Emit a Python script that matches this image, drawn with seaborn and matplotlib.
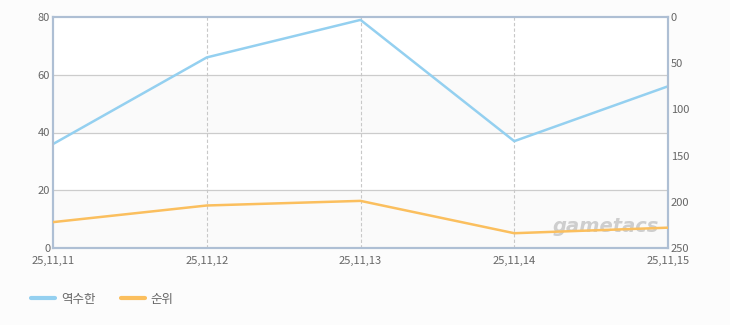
import matplotlib
matplotlib.use("Agg")
import matplotlib.pyplot as plt
import seaborn as sns
import pandas as pd
from matplotlib.lines import Line2D

dates = ["25,11,11", "25,11,12", "25,11,13", "25,11,14", "25,11,15"]
value_series = [36, 66, 79, 37, 56]
rank_series = [222, 204, 199, 234, 228]
left_ticks = [0, 20, 40, 60, 80]
right_ticks = [0, 50, 100, 150, 200, 250]

sns.set_theme(style="white")
plt.rcParams['font.family'] = ['Noto Sans CJK KR', 'DejaVu Sans']

bg = "#fcfcfc"
blue = "#94d0f0"
orange = "#fbbf5e"
frame = "#aebfd4"
tick_c = "#666666"

fig = plt.figure(figsize=(7.3, 3.25), dpi=100, facecolor=bg)
ax = fig.add_axes([53/730, 1-248/325, (668-53)/730, (248-17)/325])
ax.set_facecolor("white")

df = pd.DataFrame({"x": range(len(dates)), "v": value_series, "r": rank_series})

# alternating bands
for i in range(0, len(left_ticks) - 1):
    if i % 2 == 0:
        ax.axhspan(left_ticks[i], left_ticks[i+1], color="#fafafa", zorder=0, lw=0)
for t in left_ticks[1:-1]:
    ax.axhline(t, color="#cccccc", lw=0.9, zorder=1)
for i in range(1, len(dates) - 1):
    ax.axvline(i, color="#c8c8c8", lw=0.8, ls=(0, (3, 2)), zorder=1)

sns.lineplot(data=df, x="x", y="v", ax=ax, color=blue, lw=1.8, zorder=3)
ax.set_xlim(0, len(dates) - 1)
ax.set_ylim(0, 80)
ax.set_yticks(left_ticks)
ax.set_xticks(range(len(dates)))
ax.set_xticklabels(dates)
ax.set_xlabel("")
ax.set_ylabel("")

ax2 = ax.twinx()
sns.lineplot(data=df, x="x", y="r", ax=ax2, color=orange, lw=1.8, zorder=3)
ax2.set_ylim(250, 0)
ax2.set_yticks(right_ticks)
ax2.set_ylabel("")
ax2.set_xlim(0, len(dates) - 1)

for a in (ax, ax2):
    for s in a.spines.values():
        s.set_color(frame)
        s.set_linewidth(1.5)
    a.tick_params(axis="y", length=0, labelsize=8, colors=tick_c, pad=2)
ax.tick_params(axis="x", length=0, labelsize=8, colors=tick_c, pad=6)

ax.text(0.985, 0.05, "gametacs", transform=ax.transAxes, ha="right", va="bottom",
        fontsize=14, fontweight="bold", style="italic", color="#aaaaaa", alpha=0.55,
        family="DejaVu Sans", zorder=2)

handles = [Line2D([0], [0], color=blue, lw=3), Line2D([0], [0], color=orange, lw=3)]
fig.legend(handles, ["역수한", "순위"], loc="lower left", bbox_to_anchor=(20/730, 8/325),
           ncol=2, frameon=False, fontsize=9, handlelength=1.9, handletextpad=0.5,
           columnspacing=2.0, labelcolor=tick_c)

fig.savefig("out.png", dpi=100, facecolor=bg)
